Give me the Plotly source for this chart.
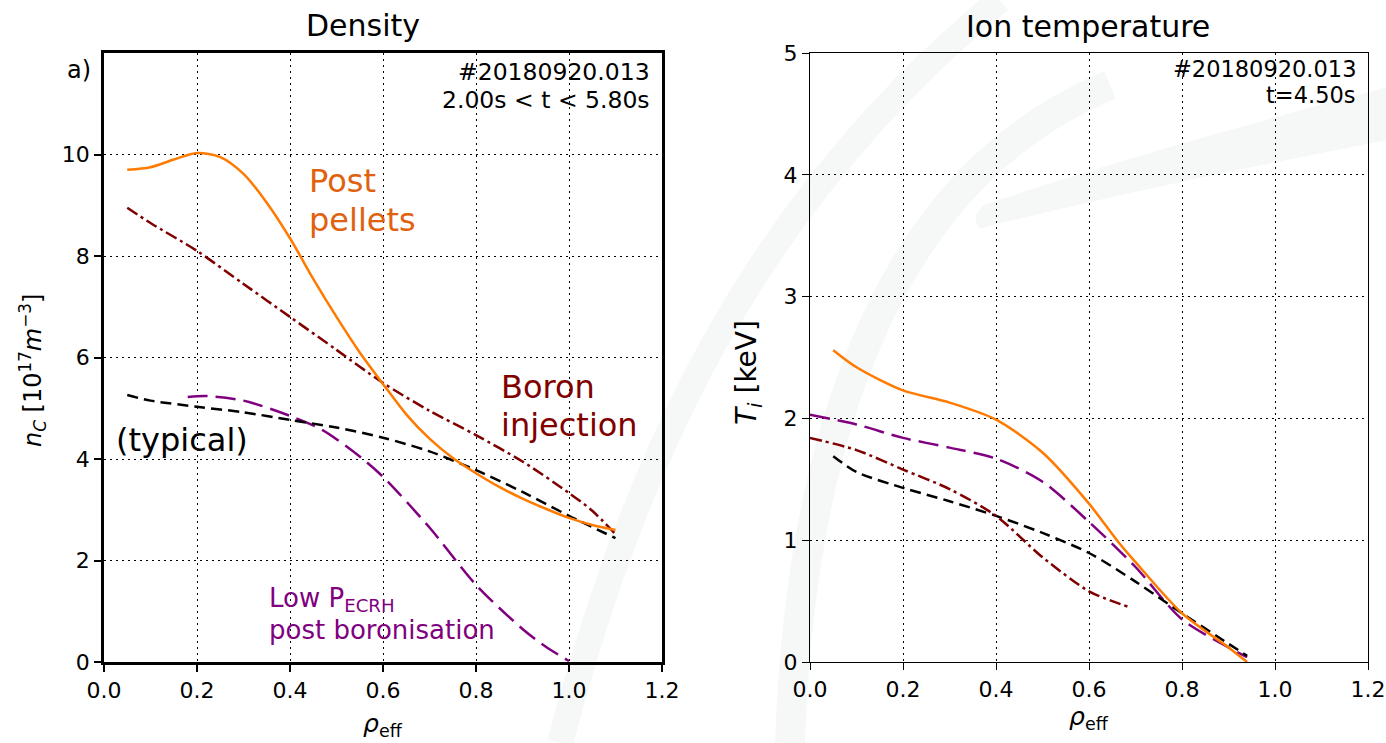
import plotly.graph_objects as go

W, H = 1386, 743

# ---------------- data ----------------
# Density panel (n_C, 1e17 m^-3) vs rho_eff
dens_pellets_x = [0.05, 0.10, 0.15, 0.20, 0.25, 0.30, 0.35, 0.40, 0.45, 0.50, 0.55, 0.60,
                  0.65, 0.70, 0.75, 0.80, 0.85, 0.90, 0.95, 1.00, 1.05, 1.10]
dens_pellets_y = [9.70, 9.75, 9.90, 10.03, 9.95, 9.62, 9.05, 8.35, 7.55, 6.80, 6.10, 5.48,
                  4.88, 4.40, 4.02, 3.72, 3.45, 3.22, 3.02, 2.84, 2.70, 2.60]

dens_boron_x = [0.05, 0.10, 0.20, 0.30, 0.40, 0.50, 0.60, 0.70, 0.80, 0.90, 1.00, 1.05, 1.10]
dens_boron_y = [8.95, 8.65, 8.10, 7.45, 6.80, 6.15, 5.50, 4.95, 4.47, 3.95, 3.33, 2.98, 2.52]

dens_typical_x = [0.05, 0.10, 0.20, 0.30, 0.40, 0.50, 0.60, 0.70, 0.80, 0.90, 1.00, 1.10]
dens_typical_y = [5.26, 5.15, 5.03, 4.92, 4.77, 4.62, 4.42, 4.15, 3.78, 3.35, 2.88, 2.44]

dens_lowp_x = [0.18, 0.22, 0.30, 0.40, 0.47, 0.55, 0.60, 0.70, 0.80, 0.90, 0.95, 1.00]
dens_lowp_y = [5.22, 5.24, 5.15, 4.85, 4.57, 4.05, 3.65, 2.65, 1.52, 0.65, 0.30, 0.02]

# Ion temperature panel (keV) vs rho_eff
ti_pellets_x = [0.05, 0.10, 0.20, 0.30, 0.40, 0.50, 0.60, 0.66, 0.70, 0.80, 0.90, 0.94]
ti_pellets_y = [2.56, 2.42, 2.23, 2.13, 1.99, 1.72, 1.30, 1.00, 0.82, 0.40, 0.12, 0.00]

ti_lowp_x = [0.00, 0.10, 0.20, 0.30, 0.40, 0.50, 0.60, 0.70, 0.80, 0.90, 0.94]
ti_lowp_y = [2.03, 1.95, 1.84, 1.76, 1.67, 1.48, 1.15, 0.78, 0.35, 0.12, 0.04]

ti_boron_x = [0.00, 0.10, 0.20, 0.30, 0.40, 0.50, 0.60, 0.65, 0.683]
ti_boron_y = [1.84, 1.74, 1.58, 1.42, 1.20, 0.86, 0.58, 0.50, 0.455]

ti_typical_x = [0.05, 0.10, 0.20, 0.30, 0.40, 0.50, 0.60, 0.70, 0.80, 0.90, 0.94]
ti_typical_y = [1.69, 1.56, 1.43, 1.32, 1.20, 1.06, 0.895, 0.66, 0.40, 0.15, 0.05]

x_ticks = [0.0, 0.2, 0.4, 0.6, 0.8, 1.0, 1.2]
dens_ticks = [0, 2, 4, 6, 8, 10]
ti_ticks = [0, 1, 2, 3, 4, 5]

# ---------------- styling ----------------
FONT = "DejaVu Sans"
C_ORANGE = "#ff7a00"
C_ORANGE_TXT = "#e0620f"
C_MAROON = "#800000"
C_PURPLE = "#800080"
C_BLACK = "#000000"

DASH_DASHDOT = "12px,4px,3px,4px"
DASH_DASH = "11px,6px"
DASH_LONG = "20px,8px"


def px(x):
    return x / W


def py(y):
    return 1 - y / H


fig = go.Figure()


def add(x, y, color, dash, xa, ya, width=2.5):
    fig.add_trace(go.Scatter(x=x, y=y, mode="lines", xaxis=xa, yaxis=ya,
                             line=dict(color=color, width=width, dash=dash,
                                       shape="spline", smoothing=0.8),
                             showlegend=False, hoverinfo="skip"))


# left panel
add(dens_lowp_x, dens_lowp_y, C_PURPLE, DASH_LONG, "x", "y")
add(dens_typical_x, dens_typical_y, C_BLACK, DASH_DASH, "x", "y")
add(dens_boron_x, dens_boron_y, C_MAROON, DASH_DASHDOT, "x", "y")
add(dens_pellets_x, dens_pellets_y, C_ORANGE, "solid", "x", "y")

# right panel
add(ti_lowp_x, ti_lowp_y, C_PURPLE, DASH_LONG, "x2", "y2")
add(ti_typical_x, ti_typical_y, C_BLACK, DASH_DASH, "x2", "y2")
add(ti_boron_x, ti_boron_y, C_MAROON, DASH_DASHDOT, "x2", "y2")
add(ti_pellets_x, ti_pellets_y, C_ORANGE, "solid", "x2", "y2")

TICKFONT = dict(family=FONT, size=22, color="black")

common_axis = dict(showgrid=True, gridcolor="black", gridwidth=1, griddash="1.5px,4.5px",
                   zeroline=False, showline=True, linecolor="black", mirror=True,
                   ticks="outside", ticklen=7, tickcolor="black", tickfont=TICKFONT,
                   automargin=False)

fig.update_layout(
    width=W, height=H,
    margin=dict(l=0, r=0, t=0, b=0, pad=0, autoexpand=False),
    paper_bgcolor="white",
    plot_bgcolor="rgba(0,0,0,0)",
    showlegend=False,
    xaxis=dict(domain=[px(104), px(662)], range=[0, 1.2], tickvals=x_ticks,
               ticktext=[f"{v:.1f}" for v in x_ticks], anchor="y",
               linewidth=2.5, tickwidth=1.8, **common_axis),
    yaxis=dict(domain=[py(662), py(53)], range=[0, 12], tickvals=dens_ticks,
               ticktext=[str(v) for v in dens_ticks], anchor="x",
               linewidth=2.5, tickwidth=1.8, **common_axis),
    xaxis2=dict(domain=[px(810), px(1368)], range=[0, 1.2], tickvals=x_ticks,
                ticktext=[f"{v:.1f}" for v in x_ticks], anchor="y2",
                linewidth=1.4, tickwidth=1.3, **common_axis),
    yaxis2=dict(domain=[py(662), py(53)], range=[0, 5], tickvals=ti_ticks,
                ticktext=[str(v) for v in ti_ticks], anchor="x2",
                linewidth=1.4, tickwidth=1.3, **common_axis),
)


def ann(text, x, y, size, color="black", xanchor="center", yanchor="middle",
        align="left", textangle=0):
    fig.add_annotation(text=text, x=px(x), y=py(y), xref="paper", yref="paper",
                       xanchor=xanchor, yanchor=yanchor, align=align, showarrow=False,
                       textangle=textangle,
                       font=dict(family=FONT, size=size, color=color))


# titles
ann("Density", 363, 25, 30)
ann("Ion temperature", 1088, 26, 30)
ann("a)", 93, 70, 24, xanchor="right")

# info texts
ann("#20180920.013", 652, 72, 23.5, xanchor="right")
ann("2.00s &lt; t &lt; 5.80s", 652, 100, 23.5, xanchor="right")
ann("#20180920.013", 1358, 69, 22.5, xanchor="right")
ann("t=4.50s", 1358, 95, 22.5, xanchor="right")

# curve labels
ann("Post", 307, 181, 32, C_ORANGE_TXT, xanchor="left")
ann("pellets", 307, 220, 32, C_ORANGE_TXT, xanchor="left")
ann("Boron", 499, 387, 32, C_MAROON, xanchor="left")
ann("injection", 499, 425, 32, C_MAROON, xanchor="left")
ann("(typical)", 114, 440, 32, C_BLACK, xanchor="left")
ann("Low P<sub>ECRH</sub>", 267, 599, 26, C_PURPLE, xanchor="left")
ann("post boronisation", 267, 630, 26, C_PURPLE, xanchor="left")

# axis labels
ann("<i>n<sub>C</sub></i> [10<sup>17</sup><i>m</i><sup>−3</sup>]", 32, 371, 24, textangle=-90)
ann("<i>T<sub>i</sub></i> [keV]", 748, 373, 28, textangle=-90)
ann("<i>ρ</i><sub>eff</sub>", 383, 725, 25)
ann("<i>ρ</i><sub>eff</sub>", 1089, 718, 25)


WM = "#f6f8f7"


def P(x, y):
    return f"{px(x):.5f},{py(y):.5f}"


# faint background watermark arcs
fig.add_shape(type="path", xref="paper", yref="paper", layer="below",
              path=f"M {P(560,743)} C {P(620,520)} {P(720,230)} {P(1000,0)}",
              line=dict(color=WM, width=26))
fig.add_shape(type="path", xref="paper", yref="paper", layer="below",
              path=f"M {P(790,743)} C {P(800,450)} {P(880,180)} {P(1110,85)}",
              line=dict(color=WM, width=30))
fig.add_shape(type="path", xref="paper", yref="paper", layer="below",
              path=(f"M {P(980,228)} Q {P(1150,185)} {P(1386,140)} L {P(1386,88)} "
                    f"Q {P(1150,150)} {P(985,205)} Q {P(970,215)} {P(980,228)} Z"),
              fillcolor=WM, line=dict(color=WM, width=1))

fig.write_html("out.html")
